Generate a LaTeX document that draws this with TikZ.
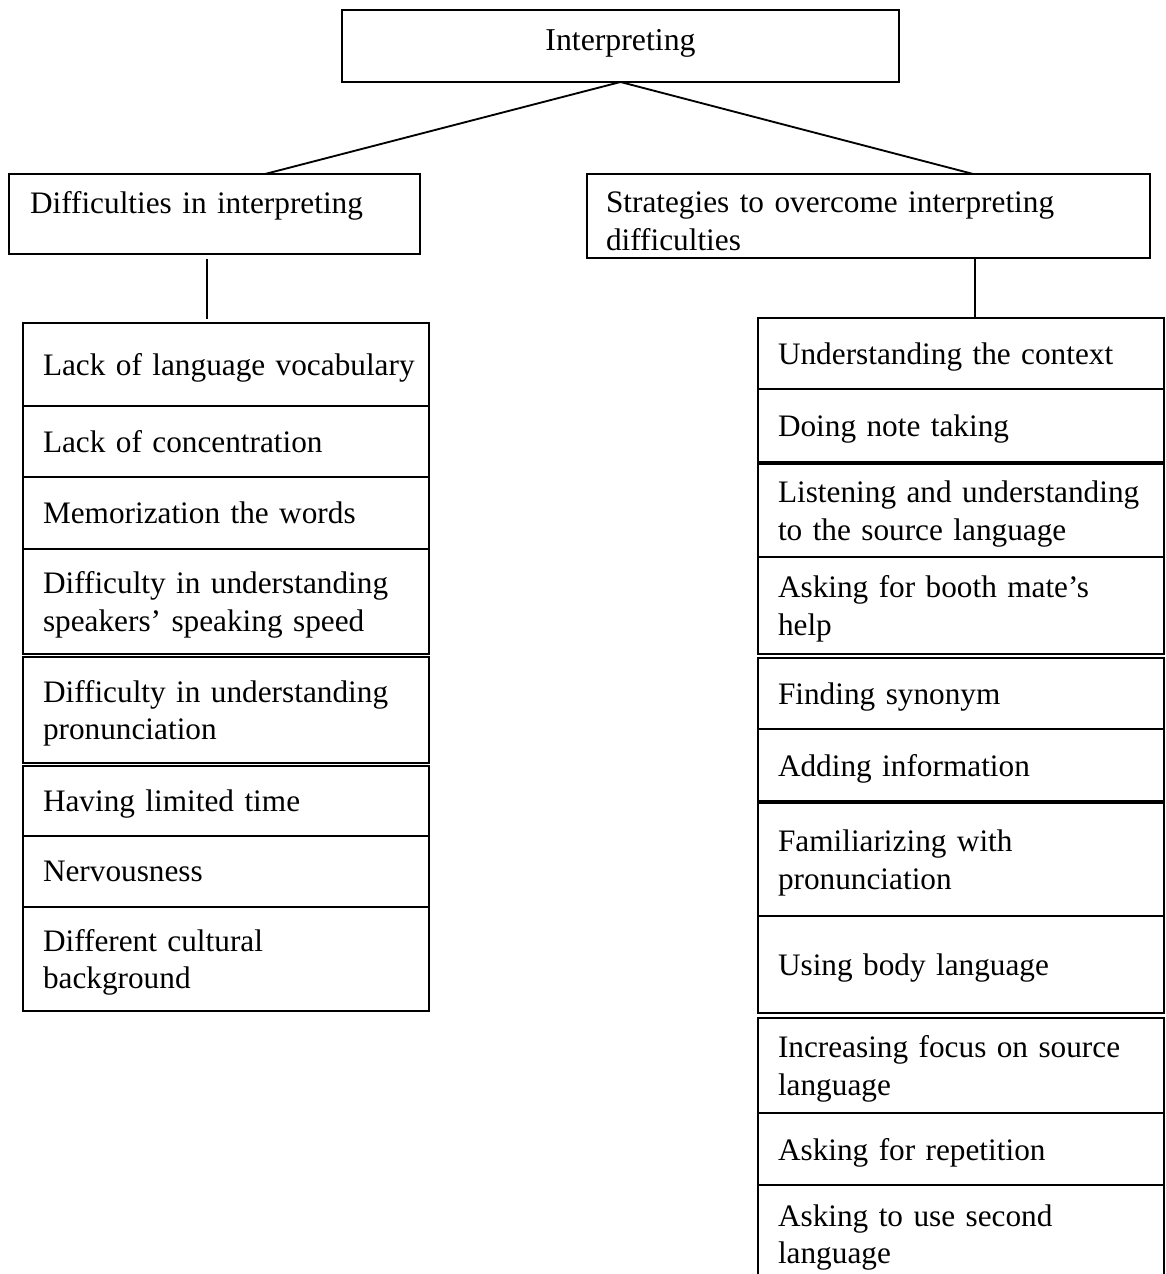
\documentclass[tikz,border=0pt]{standalone}
\usepackage{fontspec}
\setmainfont{Liberation Serif}[WordSpace=0.85]
\usetikzlibrary{positioning,calc}
\newlength\pxu
\setlength\pxu{0.3773pt}

\begin{document}
\begin{tikzpicture}[x=0.3773pt, y=-0.3773pt, node distance=0pt,
      every node/.append style={draw, line width=0.5pt, inner sep=0pt, outer sep=0pt,
        font=\fontsize{11.8pt}{14.15pt}\selectfont},
      head/.style={text width=#1, align=left},
      cell/.style={minimum width=406\pxu, inner xsep=20\pxu, text width=366\pxu,
        align=left, text depth=0pt},
      twoline/.style={text depth=14.15pt},
      link/.style={line width=0.7pt}]
    \useasboundingbox (0,0) rectangle (1165,1274);

    \node [minimum width=557\pxu, minimum height=72\pxu, text depth=4.92pt, font=\fontsize{12pt}{14.15pt}\selectfont] (root) at (620.5,46) {Interpreting};
    \node [head=369\pxu, inner xsep=21\pxu, minimum height=80\pxu, text depth=8.94pt] (diff) at (214.5,214) {Difficulties in interpreting};
    \node [head=525\pxu, inner xsep=19\pxu, minimum height=84\pxu, text depth=10.26pt] (strat) at (868.5,216) {Strategies to overcome interpreting\\difficulties};

    \node [cell, minimum height=83\pxu, anchor=north west] (d1) at (23,323) {\mbox{Lack of language vocabulary}};
    \node [cell, minimum height=71\pxu, below=of d1] (d2) {Lack of concentration};
    \node [cell, minimum height=72\pxu, below=of d2] (d3) {Memorization the words};
    \node [cell, twoline, minimum height=105\pxu, below=of d3] (d4) {Difficulty in understanding\\speakers' speaking speed};
    \node [cell, twoline, minimum height=106\pxu, below=3\pxu of d4] (d5) {Difficulty in understanding\\pronunciation};
    \node [cell, minimum height=70\pxu, below=3\pxu of d5] (d6) {Having limited time};
    \node [cell, minimum height=71\pxu, below=of d6] (d7) {Nervousness};
    \node [cell, twoline, minimum height=104\pxu, below=of d7] (d8) {Different cultural\\background};

    \node [cell, minimum height=71\pxu, anchor=north west] (s1) at (758,318) {Understanding the context};
    \node [cell, minimum height=73\pxu, below=of s1] (s2) {Doing note taking};
    \node [cell, twoline, minimum height=93\pxu, below=2\pxu of s2] (s3) {\mbox{Listening and understanding}\\to the source language};
    \node [cell, twoline, minimum height=97\pxu, below=of s3] (s4) {Asking for booth mate's\\help};
    \node [cell, minimum height=71\pxu, below=4\pxu of s4] (s5) {Finding synonym};
    \node [cell, minimum height=72\pxu, below=of s5] (s6) {Adding information};
    \node [cell, twoline, minimum height=113\pxu, below=2\pxu of s6] (s7) {Familiarizing with\\pronunciation};
    \node [cell, minimum height=97\pxu, below=of s7] (s8) {Using body language};
    \node [cell, twoline, minimum height=95\pxu, below=5\pxu of s8] (s9) {Increasing focus on source\\language};
    \node [cell, minimum height=72\pxu, below=of s9] (s10) {Asking for repetition};
    \node [cell, minimum height=95\pxu, text depth=13.1pt, below=of s10] (s11) {Asking to use second\\language};

    \draw [link] ($(diff.north west)!.623!(diff.north east)$) -- (root.south) -- ($(strat.north west)!.686!(strat.north east)$);
    \draw [link, shorten <=5\pxu, shorten >=4\pxu] ($(diff.south west)!.482!(diff.south east)$) coordinate (dv) -- (dv |- d1.north);
    \draw [link] ($(strat.south west)!.689!(strat.south east)$) coordinate (sv) -- (sv |- s1.north);
\end{tikzpicture}
\end{document}
